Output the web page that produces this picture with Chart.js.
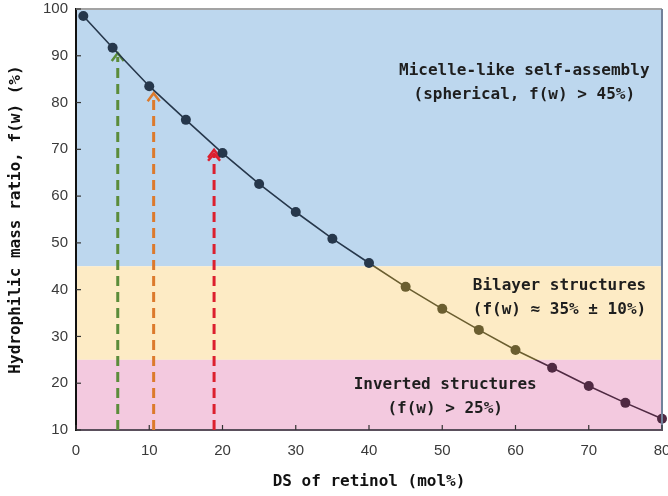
<!DOCTYPE html>
<html>
<head>
<meta charset="utf-8">
<script src="https://cdn.jsdelivr.net/npm/chart.js@4.4.0/dist/chart.umd.min.js"></script>
<style>
html, body { margin: 0; padding: 0; background: #fff; }
#wrap { width: 668px; height: 496px; }
</style>
</head>
<body>
<div id="wrap"><canvas id="fwChart" width="668" height="496"></canvas></div>
<script>
// DS of retinol (mol%) -> hydrophilic mass ratio f(w) (%)
var dsValues = [1, 5, 10, 15, 20, 25, 30, 35, 40, 45, 50, 55, 60, 65, 70, 75, 80];
var fwValues = [98.5, 91.7, 83.5, 76.3, 69.2, 62.6, 56.6, 50.9, 45.7, 40.6, 35.9, 31.4, 27.1, 23.3, 19.4, 15.8, 12.4];
var xTicks = [0, 10, 20, 30, 40, 50, 60, 70, 80];
var yTicks = [10, 20, 30, 40, 50, 60, 70, 80, 90, 100];

// zones (f(w) limits)
var zoneTop = [100, 45, 25];
var zoneBottom = [45, 25, 10];
var zoneText = [
  ["Micelle-like self-assembly", "(spherical, f(w) > 45%)"],
  ["Bilayer structures", "(f(w) \u2248 35% \u00b1 10%)"],
  ["Inverted structures", "(f(w) > 25%)"]
];

// dashed arrows (DS value, f(w) reached)
var arrowX = [5.7, 10.6, 18.85];
var arrowTop = [90.6, 82, 69.9];

var zoneFill = ["#bdd7ee", "#fdebc5", "#f3c9df"];
var zoneMark = ["#26374b", "#6b5e30", "#4f2942"];
var arrowColor = ["#5b8c3a", "#dc7a2c", "#dc1f2e"];

// colour a value by the zone it falls in
function zoneIndex(v) {
  if (v >= zoneBottom[0]) return 0;
  if (v >= zoneBottom[1]) return 1;
  return 2;
}

function lineGradient(ctx) {
  var chart = ctx.chart, area = chart.chartArea;
  if (!area || !chart.scales.y) return zoneMark[0];
  var ys = chart.scales.y;
  var h = area.bottom - area.top;
  var g = chart.ctx.createLinearGradient(0, area.top, 0, area.bottom);
  var p1 = (ys.getPixelForValue(zoneBottom[0]) - area.top) / h;
  var p2 = (ys.getPixelForValue(zoneBottom[1]) - area.top) / h;
  g.addColorStop(0, zoneMark[0]);
  g.addColorStop(p1, zoneMark[0]);
  g.addColorStop(p1, zoneMark[1]);
  g.addColorStop(p2, zoneMark[1]);
  g.addColorStop(p2, zoneMark[2]);
  g.addColorStop(1, zoneMark[2]);
  return g;
}

var points = [];
for (var i = 0; i < dsValues.length; i++) {
  points.push({x: dsValues[i], y: fwValues[i]});
}

var monoFont = "'DejaVu Sans Mono', 'Liberation Mono', monospace";

var zonePlugin = {
  id: 'zones',
  beforeDraw: function(chart) {
    var c = chart.ctx, a = chart.chartArea, ys = chart.scales.y;
    c.save();
    for (var z = 0; z < zoneTop.length; z++) {
      var t = ys.getPixelForValue(zoneTop[z]);
      var b = ys.getPixelForValue(zoneBottom[z]);
      c.fillStyle = zoneFill[z];
      c.fillRect(a.left, t, a.right - a.left, b - t);
    }
    c.restore();
  },
  beforeDatasetsDraw: function(chart) {
    var c = chart.ctx, xs = chart.scales.x, ys = chart.scales.y;
    c.save();
    for (var k = 0; k < arrowX.length; k++) {
      var px = xs.getPixelForValue(arrowX[k]);
      var tip = ys.getPixelForValue(arrowTop[k]);
      c.strokeStyle = arrowColor[k];
      c.lineWidth = 3;
      c.setLineDash([10, 6]);
      c.beginPath();
      c.moveTo(px, ys.bottom);
      c.lineTo(px, tip + 4);
      c.stroke();
      c.setLineDash([]);
      c.lineWidth = 2.5;
      c.beginPath();
      c.moveTo(px - 6, tip + 8);
      c.lineTo(px, tip);
      c.lineTo(px + 6, tip + 8);
      c.stroke();
      if (k === 2) {
        c.beginPath();
        c.moveTo(px - 6, tip + 11);
        c.lineTo(px, tip + 4);
        c.lineTo(px + 6, tip + 11);
        c.stroke();
      }
    }
    c.restore();
  },
  afterDraw: function(chart, args, opts) {
    var c = chart.ctx, a = chart.chartArea, xs = chart.scales.x, ys = chart.scales.y;
    c.save();
    // frame top / right
    c.lineWidth = 2;
    c.strokeStyle = "#a3a3a3";
    c.beginPath();
    c.moveTo(a.left, a.top);
    c.lineTo(a.right, a.top);
    c.stroke();
    c.strokeStyle = "#71819a";
    c.beginPath();
    c.moveTo(a.right, a.top);
    c.lineTo(a.right, a.bottom);
    c.stroke();
    // inward ticks
    c.lineWidth = 1.2;
    c.strokeStyle = "#333";
    xTicks.forEach(function(v) {
      var px = xs.getPixelForValue(v);
      c.beginPath();
      c.moveTo(px, a.bottom);
      c.lineTo(px, a.bottom - 5);
      c.stroke();
    });
    yTicks.forEach(function(v) {
      var py = ys.getPixelForValue(v);
      c.beginPath();
      c.moveTo(a.left, py);
      c.lineTo(a.left + 5, py);
      c.stroke();
    });
    // zone labels
    c.fillStyle = "#1e1e1e";
    c.font = "bold 16px " + monoFont;
    c.textAlign = "center";
    c.textBaseline = "middle";
    for (var z = 0; z < zoneText.length; z++) {
      var lx = xs.getPixelForValue(opts.labelX[z]);
      for (var l = 0; l < zoneText[z].length; l++) {
        c.fillText(zoneText[z][l], lx, ys.getPixelForValue(opts.labelY[z][l]));
      }
    }
    c.restore();
  }
};

new Chart("fwChart", {
  type: "scatter",
  data: {
    datasets: [{
      label: "f(w)",
      data: points,
      showLine: true,
      borderColor: lineGradient,
      borderWidth: 1.6,
      pointRadius: 5,
      pointHoverRadius: 5,
      pointBorderWidth: 0,
      pointBackgroundColor: function(ctx) {
        return ctx.raw ? zoneMark[zoneIndex(ctx.raw.y)] : zoneMark[0];
      },
      clip: false
    }]
  },
  plugins: [zonePlugin],
  options: {
    responsive: false,
    animation: false,
    events: [],
    layout: { padding: { left: 0, right: 6, top: 9, bottom: 0 } },
    plugins: {
      legend: { display: false },
      tooltip: { enabled: false },
      zones: {
        labelX: [61.2, 66.0, 50.4],
        labelY: [[86.7, 81.6], [40.8, 35.7], [19.7, 14.5]]
      }
    },
    scales: {
      x: {
        type: "linear",
        min: 0,
        max: 80,
        afterBuildTicks: function(scale) {
          scale.ticks = xTicks.map(function(v) { return {value: v}; });
        },
        afterFit: function(scale) {
          scale.height = 66;
          scale.paddingLeft = 0;
          scale.paddingRight = 0;
        },
        grid: { display: false, drawTicks: false },
        border: { display: true, color: "#5a4f5c", width: 2 },
        ticks: { color: "#3a3a3a", padding: 12, font: { family: "'Liberation Sans', Arial, sans-serif", size: 15 } },
        title: {
          display: true,
          text: "DS of retinol (mol%)",
          color: "#111",
          padding: { top: 0, bottom: 5 },
          font: { family: monoFont, size: 16, weight: "bold" }
        }
      },
      y: {
        type: "linear",
        min: 10,
        max: 100,
        afterBuildTicks: function(scale) {
          scale.ticks = yTicks.map(function(v) { return {value: v}; });
        },
        afterFit: function(scale) {
          scale.width = 76;
          scale.paddingTop = 0;
          scale.paddingBottom = 0;
        },
        grid: { display: false, drawTicks: false },
        border: { display: true, color: "#111", width: 2 },
        ticks: { color: "#3a3a3a", padding: 8, font: { family: "'Liberation Sans', Arial, sans-serif", size: 15 } },
        title: {
          display: true,
          text: "Hydrophilic mass ratio, f(w) (%)",
          color: "#111",
          padding: { top: 6, bottom: 0 },
          font: { family: monoFont, size: 16, weight: "bold" }
        }
      }
    }
  }
});
</script>
</body>
</html>
